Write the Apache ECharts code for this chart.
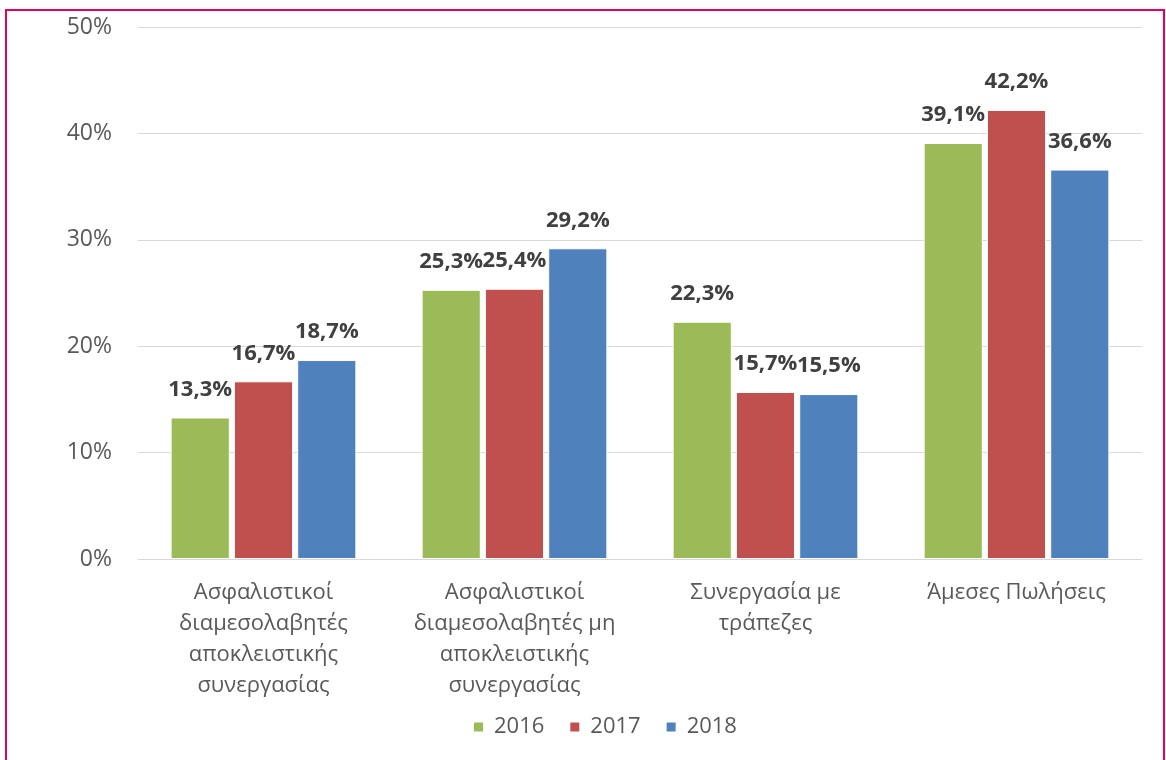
<!DOCTYPE html>
<html lang="el">
<head>
    <meta charset="UTF-8">
    <title>Κανάλια πωλήσεων</title>
    <script src="https://cdn.jsdelivr.net/npm/echarts@6/dist/echarts.min.js"></script>
    <style>
        html, body { margin: 0; padding: 0; background: #fff; }
        #main { width: 1166px; height: 760px; }
    </style>
</head>
<body>
<div id="main"></div>
<script>
    // δεδομένα
    var categories = [
        'Ασφαλιστικοί\nδιαμεσολαβητές\nαποκλειστικής\nσυνεργασίας',
        'Ασφαλιστικοί\nδιαμεσολαβητές μη\nαποκλειστικής\nσυνεργασίας',
        'Συνεργασία με\nτράπεζες',
        'Άμεσες Πωλήσεις'
    ];
    var years = ['2016', '2017', '2018'];
    var values2016 = [13.3, 25.3, 22.3, 39.1];
    var values2017 = [16.7, 25.4, 15.7, 42.2];
    var values2018 = [18.7, 29.2, 15.5, 36.6];
    var colors = ['#9BBB59', '#C0504D', '#4F81BD'];

    var font = '"Open Sans", "Noto Sans", sans-serif';
    var allValues = [values2016, values2017, values2018];

    var series = years.map(function (y, i) {
        return {
            name: y,
            type: 'bar',
            data: allValues[i],
            barGap: '7%',
            barCategoryGap: '26%',
            itemStyle: { color: colors[i], borderColor: '#fff', borderWidth: 1 },
            label: {
                show: true,
                position: 'top',
                distance: 17,
                color: '#404040',
                fontWeight: 'bold',
                fontSize: 22,
                fontFamily: font,
                formatter: function (p) {
                    return p.value.toFixed(1).replace('.', ',') + '%';
                }
            }
        };
    });

    var myChart = echarts.init(document.getElementById('main'));
    var option = {
        animation: false,
        textStyle: { fontFamily: font },
        grid: { left: 138, right: 24, top: 27, bottom: 201 },
        graphic: [{
            type: 'rect',
            shape: { x: 6, y: 10, width: 1158, height: 800 },
            style: { fill: 'none', stroke: '#E4005B', lineWidth: 2 }
        }],
        legend: {
            data: years,
            bottom: 17,
            left: 467,
            itemWidth: 11,
            itemHeight: 11,
            itemGap: 24,
            icon: 'rect',
            textStyle: { fontSize: 22, color: '#595959', fontFamily: font, padding: [0, 0, 0, 5] }
        },
        xAxis: {
            type: 'category',
            data: categories,
            axisLine: { lineStyle: { color: '#D9D9D9', width: 1 } },
            axisTick: { length: 8, lineStyle: { color: '#D9D9D9' } },
            axisLabel: {
                color: '#595959',
                fontSize: 22,
                lineHeight: 31,
                margin: 18,
                interval: 0,
                fontFamily: font
            }
        },
        yAxis: {
            type: 'value',
            min: 0,
            max: 50,
            interval: 10,
            axisLine: { show: false },
            axisTick: { show: false },
            splitLine: { lineStyle: { color: '#D9D9D9', width: 1 } },
            axisLabel: {
                color: '#595959',
                fontSize: 23,
                margin: 26,
                fontFamily: font,
                formatter: '{value}%'
            }
        },
        series: series
    };
    myChart.setOption(option);
</script>
</body>
</html>
